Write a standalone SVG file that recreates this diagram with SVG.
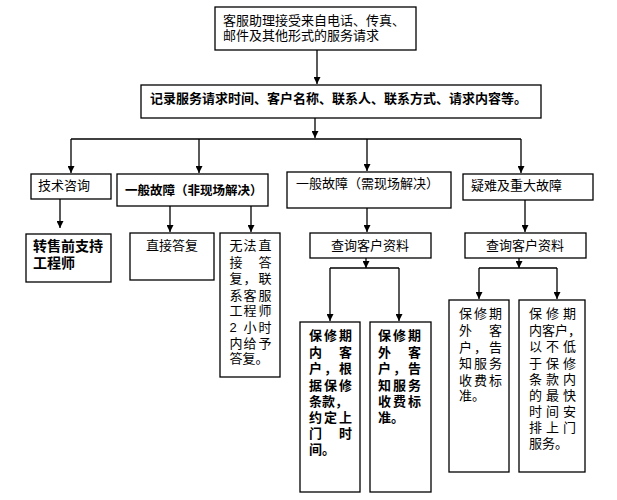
<svg xmlns="http://www.w3.org/2000/svg" width="617" height="500" viewBox="0 0 617 500">
<style>
rect{fill:#fff;stroke:#000;stroke-width:1.3}
text{font-family:"Liberation Sans","Noto Sans CJK SC",sans-serif;font-size:13px;fill:#000}
.b{font-weight:bold}
.c{text-anchor:middle}
#conn line{stroke:#000;stroke-width:1.3}
</style>
<defs><marker id="a" viewBox="0 0 10 10" refX="10" refY="5" markerWidth="7" markerHeight="7" markerUnits="userSpaceOnUse" orient="auto"><path d="M0,0L10,5L0,10z" fill="#000"/></marker></defs>
<rect width="617" height="500" style="stroke:none"/>
<g id="conn">
<line x1="317" y1="50" x2="317" y2="84" marker-end="url(#a)"/>
<line x1="315" y1="118" x2="315" y2="138" marker-end="url(#a)"/>
<line x1="71" y1="139" x2="521" y2="139"/>
<line x1="71" y1="139" x2="71" y2="173" marker-end="url(#a)"/>
<line x1="199" y1="139" x2="199" y2="173" marker-end="url(#a)"/>
<line x1="367" y1="139" x2="367" y2="171" marker-end="url(#a)"/>
<line x1="521" y1="139" x2="521" y2="173" marker-end="url(#a)"/>
<line x1="60" y1="199" x2="60" y2="228" marker-end="url(#a)"/>
<line x1="170" y1="206" x2="170" y2="232" marker-end="url(#a)"/>
<line x1="251" y1="206" x2="251" y2="232" marker-end="url(#a)"/>
<line x1="367" y1="208" x2="367" y2="232" marker-end="url(#a)"/>
<line x1="525" y1="200" x2="525" y2="232" marker-end="url(#a)"/>
<line x1="366" y1="258" x2="366" y2="268" marker-end="url(#a)"/>
<line x1="330" y1="268" x2="399" y2="268"/>
<line x1="330" y1="268" x2="330" y2="321" marker-end="url(#a)"/>
<line x1="399" y1="268" x2="399" y2="321" marker-end="url(#a)"/>
<line x1="519" y1="258" x2="519" y2="268" marker-end="url(#a)"/>
<line x1="479" y1="268" x2="557" y2="268"/>
<line x1="479" y1="268" x2="479" y2="299" marker-end="url(#a)"/>
<line x1="557" y1="268" x2="557" y2="299" marker-end="url(#a)"/>
</g>
<g id="n1"><rect x="215" y="7" width="201" height="43"/><text x="223" y="25">客服助理接受来自电话、传真、</text><text x="223" y="40">邮件及其他形式的服务请求</text></g>
<g id="n2"><rect x="141" y="85" width="400" height="33"/><text class="b" x="150" y="103">记录服务请求时间、客户名称、联系人、联系方式、请求内容等。</text></g>
<g id="n3"><rect x="31" y="174" width="80" height="25"/><text x="38" y="190">技术咨询</text></g>
<g id="n4"><rect x="117" y="174" width="151" height="32"/><text class="b" x="125" y="195" style="font-size:12.5px">一般故障（非现场解决）</text></g>
<g id="n5"><rect x="287" y="172" width="164" height="36"/><text x="296" y="188">一般故障（需现场解决）</text></g>
<g id="n6"><rect x="463" y="174" width="130" height="26"/><text x="471" y="190">疑难及重大故障</text></g>
<g id="n7"><rect x="26" y="234" width="85" height="48"/><text class="b" x="33" y="251" style="font-size:14px">转售前支持</text><text class="b" x="33" y="268" style="font-size:14px">工程师</text></g>
<g id="n8"><rect x="130" y="233" width="84" height="47"/><text class="c" x="172" y="250">直接答复</text></g>
<g id="n9"><rect x="220" y="233" width="60" height="144"/>
<text x="229.5 243.5 258.5" y="250">无法直</text>
<text x="229.5 258.5" y="267">接答</text>
<text x="229.5 243.5 258.5" y="283">复，联</text>
<text x="229.5 243.5 258.5" y="300">系客服</text>
<text x="229.5 243.5 258.5" y="315">工程师</text>
<text x="229.5 243.5 258.5" y="332">2小时</text>
<text x="229.5 243.5 258.5" y="348">内给予</text>
<text x="229.5" y="363">答复。</text></g>
<g id="n10"><rect x="310" y="233" width="121" height="25"/><text class="c" x="370" y="250">查询客户资料</text></g>
<g id="n11"><rect x="465" y="233" width="121" height="25"/><text class="c" x="525" y="250">查询客户资料</text></g>
<g id="n12"><rect x="300" y="322" width="60" height="170"/>
<text class="b" x="309 324 339" y="340">保修期</text>
<text class="b" x="309 339" y="357">内客</text>
<text class="b" x="309 324 339" y="373">户，根</text>
<text class="b" x="309 324 339" y="390">据保修</text>
<text class="b" x="309" y="406">条款，</text>
<text class="b" x="309 324 339" y="422">约定上</text>
<text class="b" x="309 339" y="438">门时</text>
<text class="b" x="309" y="454">间。</text></g>
<g id="n13"><rect x="370" y="322" width="61" height="170"/>
<text class="b" x="378 393 408" y="340">保修期</text>
<text class="b" x="378 408" y="357">外客</text>
<text class="b" x="378 393 408" y="373">户，告</text>
<text class="b" x="378 393 408" y="390">知服务</text>
<text class="b" x="378 393 408" y="406">收费标</text>
<text class="b" x="378" y="422">准。</text></g>
<g id="n14"><rect x="449" y="300" width="60" height="172"/>
<text x="459 474 489" y="318">保修期</text>
<text x="459 489" y="335">外客</text>
<text x="459 474 489" y="352">户，告</text>
<text x="459 474 489" y="368">知服务</text>
<text x="459 474 489" y="385">收费标</text>
<text x="459" y="400">准。</text></g>
<g id="n15"><rect x="519" y="300" width="66" height="172"/>
<text x="529 546 563" y="318">保修期</text>
<text x="529" y="335">内客户，</text>
<text x="529 546 563" y="351">以不低</text>
<text x="529 546 563" y="368">于保修</text>
<text x="529 546 563" y="384">条款内</text>
<text x="529 546 563" y="400">的最快</text>
<text x="529 546 563" y="416">时间安</text>
<text x="529 546 563" y="432">排上门</text>
<text x="529" y="448">服务。</text></g>
</svg>
